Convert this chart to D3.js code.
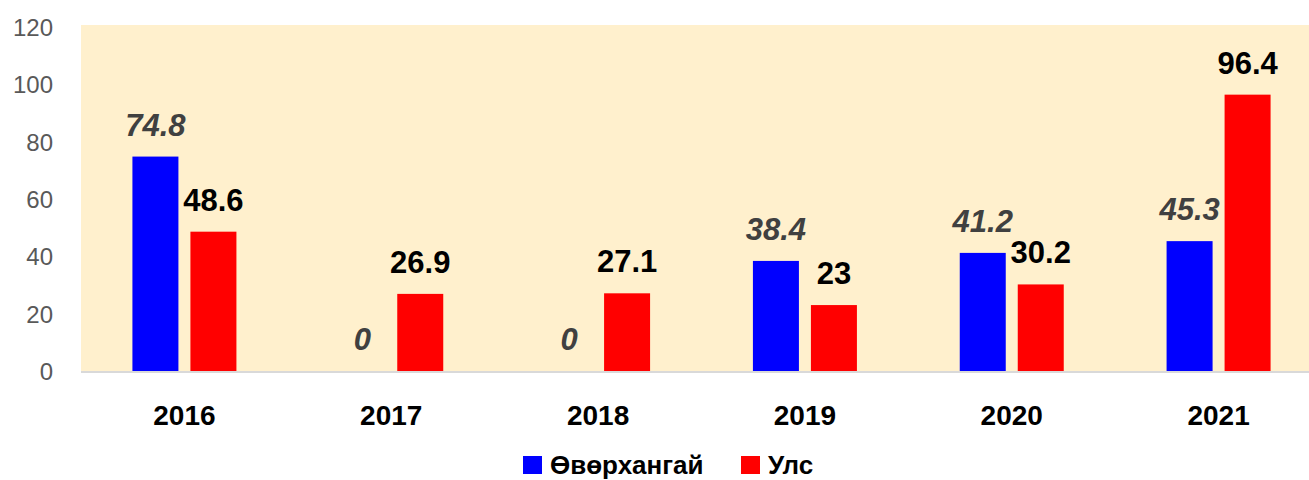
<!DOCTYPE html>
<html><head><meta charset="utf-8">
<script src="https://cdn.jsdelivr.net/npm/d3@7"></script>
<style>body{margin:0;background:#fff}svg{display:block}</style>
</head><body>
<svg id="c" width="1309" height="480"></svg>
<script>
const categories = ["2016","2017","2018","2019","2020","2021"];
const seriesNames = ["Өвөрхангай","Улс"];
const valuesOvor = [74.8, 0, 0, 38.4, 41.2, 45.3];
const valuesUls = [48.6, 26.9, 27.1, 23, 30.2, 96.4];
const yTicks = [0,20,40,60,80,100,120];

const colors = {"Өвөрхангай":"#0000FF","Улс":"#FF0000"};
const svg = d3.select("#c");
const x0 = d3.scaleBand().domain(categories).range([81,1322]).padding(0);
const x1 = d3.scaleBand().domain(seriesNames).range([0,104]).paddingInner(12/58).paddingOuter(0);
const y = d3.scaleLinear().domain([0,120]).range([371,27]);

svg.append("rect").attr("x",81).attr("y",25).attr("width",1309-81).attr("height",371-25).attr("fill","#FFF0CD");

// y axis labels
const ya = svg.append("g").attr("transform","translate(53,0)")
  .call(d3.axisLeft(y).tickValues(yTicks).tickSize(0).tickPadding(0));
ya.select(".domain").remove();
ya.selectAll("text").attr("font-family","Liberation Sans, Arial, sans-serif").attr("font-size",24).attr("fill","#595959").attr("dy","0.36em");

// baseline
svg.append("line").attr("x1",81).attr("x2",1309).attr("y1",372).attr("y2",372).attr("stroke","#D9D9D9").attr("stroke-width",2);

const data = categories.map((c,i)=>({cat:c, vals:[{s:seriesNames[0],v:valuesOvor[i]},{s:seriesNames[1],v:valuesUls[i]}]}));
const g = svg.selectAll("g.cat").data(data).join("g").attr("class","cat")
  .attr("transform",d=>`translate(${x0(d.cat)+(x0.bandwidth()-104)/2},0)`);
g.selectAll("rect").data(d=>d.vals).join("rect")
  .attr("x",d=>x1(d.s)).attr("width",x1.bandwidth())
  .attr("y",d=>y(d.v)).attr("height",d=>y(0)-y(d.v))
  .attr("fill",d=>colors[d.s]);
g.selectAll("text").data(d=>d.vals).join("text")
  .attr("x",d=>x1(d.s)+x1.bandwidth()/2).attr("y",d=>y(d.v)-21)
  .attr("text-anchor","middle")
  .attr("font-family","Liberation Sans, Arial, sans-serif").attr("font-size",31).attr("font-weight","bold")
  .attr("font-style",d=>d.s===seriesNames[0]?"italic":"normal")
  .attr("fill",d=>d.s===seriesNames[0]?"#404040":"#000000")
  .text(d=>d.v);

// x axis labels
const xa = svg.append("g").attr("transform","translate(0,425)")
  .call(d3.axisBottom(x0).tickSize(0).tickPadding(0));
xa.select(".domain").remove();
xa.selectAll("text").attr("font-family","Liberation Sans, Arial, sans-serif").attr("font-size",28).attr("font-weight","bold").attr("fill","#000").attr("dy",0);

// legend
const leg = [{s:seriesNames[0],x:523},{s:seriesNames[1],x:741}];
const lg = svg.selectAll("g.leg").data(leg).join("g").attr("class","leg");
lg.append("rect").attr("x",d=>d.x).attr("y",456).attr("width",19).attr("height",18).attr("fill",d=>colors[d.s]);
lg.append("text").attr("x",d=>d.x+27).attr("y",474).attr("font-family","Liberation Sans, Arial, sans-serif")
  .attr("font-size",26).attr("font-weight","bold").attr("fill","#000").text(d=>d.s);
</script>
</body></html>
